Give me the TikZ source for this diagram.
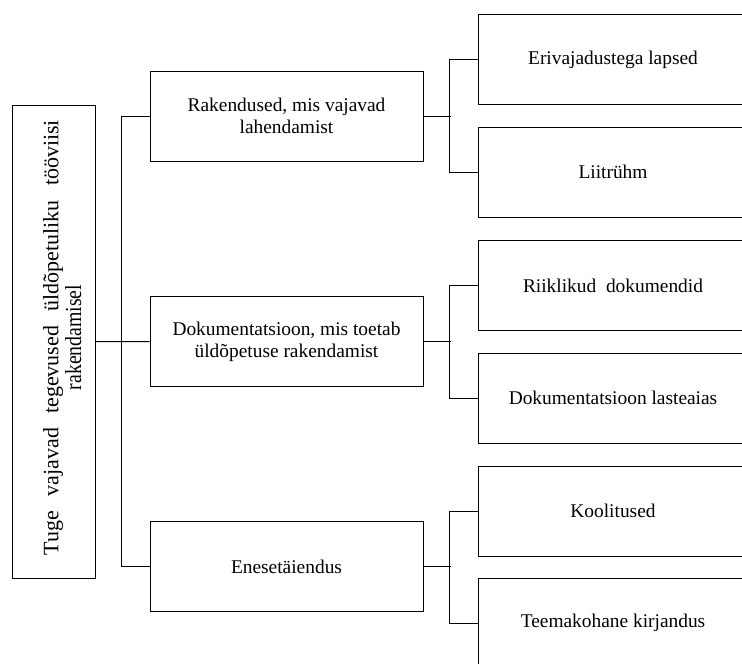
\documentclass[tikz,border=0pt]{standalone}
\usepackage{fontspec}
\setmainfont{Liberation Serif}
\begin{document}
\begin{tikzpicture}[x=1pt,y=-1pt,
  box/.style={draw, line width=1pt, inner sep=0pt, align=center,
    font=\fontsize{19.4}{21.5}\selectfont},
  midbox/.style={box, minimum width=273pt, minimum height=90pt},
  leafbox/.style={box, minimum width=270pt, minimum height=90pt},
  conn/.style={line width=1pt}]
\useasboundingbox (0,0) rectangle (742,664);
\clip (0,0) rectangle (742,664);
\fill[white] (0,0) rectangle (742,664);
% root
\node[draw, line width=1pt, minimum width=83pt, minimum height=473pt, inner sep=0pt] (root) at (53.5,341.5) {};
\node[rotate=90, inner sep=0pt] (roottext) at (65.3,337.5)
  {\fontsize{22}{22.5}\selectfont\begin{tabular}{@{}c@{}}\hbox to 435pt{Tuge\hfill vajavad\hfill tegevused\hfill üldõpetuliku\hfill tööviisi}\\\scalebox{0.9}[1.05]{rakendamisel}\end{tabular}};
% middle boxes
\node[midbox] (A) at (286.5,116) {Rakendused, mis vajavad\\lahendamist};
\node[midbox] (B) at (286.5,341.7) {Dokumentatsioon, mis toetab\\üldõpetuse rakendamist};
\node[midbox] (C) at (286.5,566.7) {Enesetäiendus};
% leaves
\node[leafbox] (A1) at (613,59.5) {Erivajadustega lapsed};
\node[leafbox] (A2) at (613,172) {Liitrühm};
\node[leafbox] (B1) at (613,285.5) {Riiklikud\ \ dokumendid};
\node[leafbox] (B2) at (613,398) {Dokumentatsioon lasteaias};
\node[leafbox] (C1) at (613,511) {Koolitused};
\node[leafbox] (C2) at (613,623) {Teemakohane kirjandus};
% connectors left
\draw[conn] (root.east) -- (B.west);
\draw[conn] (A.west) -- ++(-28,0) |- (C.west);
% connectors right
\foreach \m/\p/\q in {A/A1/A2, B/B1/B2, C/C1/C2}{
  \draw[conn] (\m.east) -- ++(27,0);
  \draw[conn] (\p.west) -- ++(-28,0) |- (\q.west);
}
\end{tikzpicture}
\end{document}
